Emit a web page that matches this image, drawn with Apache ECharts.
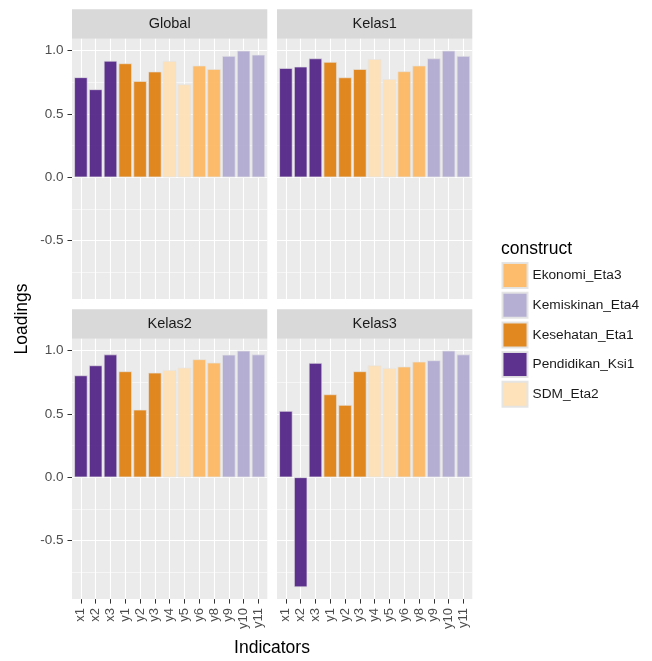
<!DOCTYPE html>
<html>
<head>
<meta charset="utf-8">
<script src="https://cdn.jsdelivr.net/npm/echarts@6/dist/echarts.min.js"></script>
<style>
  html, body { margin: 0; padding: 0; background: #ffffff; }
  #chart { width: 652px; height: 661px; }
</style>
</head>
<body>
<div id="chart"></div>
<script>
// indicators on the x axis
var categories = ['x1', 'x2', 'x3', 'y1', 'y2', 'y3', 'y4', 'y5', 'y6', 'y8', 'y9', 'y10', 'y11'];
// construct of each indicator
var groupOf = ['Pendidikan_Ksi1', 'Pendidikan_Ksi1', 'Pendidikan_Ksi1',
    'Kesehatan_Eta1', 'Kesehatan_Eta1', 'Kesehatan_Eta1',
    'SDM_Eta2', 'SDM_Eta2', 'Ekonomi_Eta3', 'Ekonomi_Eta3',
    'Kemiskinan_Eta4', 'Kemiskinan_Eta4', 'Kemiskinan_Eta4'];
var constructs = ['Ekonomi_Eta3', 'Kemiskinan_Eta4', 'Kesehatan_Eta1', 'Pendidikan_Ksi1', 'SDM_Eta2'];
var panels = ['Global', 'Kelas1', 'Kelas2', 'Kelas3'];

// loadings per panel
var globalLoad = [0.79, 0.695, 0.92, 0.90, 0.76, 0.835, 0.918, 0.734, 0.882, 0.855, 0.958, 1.0, 0.968];
var kelas1Load = [0.863, 0.874, 0.939, 0.911, 0.789, 0.855, 0.934, 0.776, 0.837, 0.882, 0.939, 1.0, 0.958];
var kelas2Load = [0.805, 0.884, 0.970, 0.837, 0.534, 0.826, 0.847, 0.866, 0.932, 0.905, 0.968, 1.0, 0.970];
var kelas3Load = [0.524, -0.868, 0.903, 0.655, 0.571, 0.837, 0.884, 0.863, 0.874, 0.913, 0.924, 1.0, 0.970];
var loadings = [globalLoad, kelas1Load, kelas2Load, kelas3Load];

var yTicks = [-0.5, 0, 0.5, 1.0];

var colors = {
    'Ekonomi_Eta3': '#fdb863',
    'Kemiskinan_Eta4': '#b2abd2',
    'Kesehatan_Eta1': '#e08214',
    'Pendidikan_Ksi1': '#542788',
    'SDM_Eta2': '#fee0b6'
};

// panel layout (px)
var panelW = 195.3, panelH = 260.3;
var panelPos = [[72, 38.8], [277, 38.8], [72, 338.8], [277, 338.8]];
var stripH = 29.5;
var barPx = 0.9 * panelW / 13.2;
var xIdx = categories.map(function (c, i) { return i; });

var grids = [], xAxes = [], yAxes = [], series = [], graphics = [];

panelPos.forEach(function (pos, p) {
    var isLeft = (p % 2 === 0);
    var isBottom = (p >= 2);
    grids.push({
        left: pos[0], top: pos[1], width: panelW, height: panelH,
        show: true, backgroundColor: '#EBEBEB', borderWidth: 0, containLabel: false
    });
    xAxes.push({
        type: 'value', gridIndex: p, min: -0.6, max: 12.6, position: 'bottom',
        axisLine: { show: false, onZero: false },
        axisTick: { show: isBottom, length: 4.5, customValues: xIdx, lineStyle: { color: '#333333', width: 1 } },
        axisLabel: {
            show: isBottom, customValues: xIdx, rotate: 90, margin: 9,
            fontFamily: 'Liberation Sans', fontSize: 13, color: '#4d4d4d',
            formatter: function (v) { return categories[Math.round(v)]; }
        },
        splitLine: { show: true, customValues: xIdx, lineStyle: { color: '#ffffff', width: 1.1 } }
    });
    yAxes.push({
        type: 'value', gridIndex: p, min: -0.962, max: 1.094, position: 'left',
        minInterval: 0.5, maxInterval: 0.5,
        axisLine: { show: false, onZero: false },
        axisTick: { show: isLeft, length: 4.5, customValues: yTicks, lineStyle: { color: '#333333', width: 1 } },
        axisLabel: {
            show: isLeft, customValues: yTicks, margin: 8.5,
            fontFamily: 'Liberation Sans', fontSize: 13.5, color: '#4d4d4d',
            formatter: function (v) { return v.toFixed(1); }
        },
        splitLine: { show: true, customValues: yTicks, lineStyle: { color: '#ffffff', width: 1.1 } },
        minorTick: { show: false, splitNumber: 2 },
        minorSplitLine: { show: true, lineStyle: { color: '#ffffff', width: 0.55 } }
    });

    constructs.forEach(function (name) {
        var data = [];
        categories.forEach(function (c, i) {
            if (groupOf[i] === name) data.push([i, loadings[p][i]]);
        });
        series.push({
            type: 'bar', name: name, xAxisIndex: p, yAxisIndex: p,
            barWidth: barPx, barGap: '-100%',
            itemStyle: { color: colors[name], opacity: 0.95, borderColor: '#e4e4e4', borderWidth: 0.7 },
            emphasis: { disabled: true },
            data: data
        });
    });

    // facet strip
    graphics.push({
        type: 'rect', left: pos[0], top: pos[1] - stripH, silent: true,
        shape: { width: panelW, height: stripH }, style: { fill: '#D9D9D9' }
    });
    graphics.push({
        type: 'text', x: pos[0] + panelW / 2, y: pos[1] - stripH / 2, silent: true,
        style: {
            text: panels[p], fontFamily: 'Liberation Sans', fontSize: 14.5, fill: '#1a1a1a',
            textAlign: 'center', textVerticalAlign: 'middle'
        }
    });
});

// axis titles and legend title
graphics.push({
    type: 'text', x: 272, y: 648, silent: true,
    style: { text: 'Indicators', fontFamily: 'Liberation Sans', fontSize: 17.5, fill: '#000000', textAlign: 'center', textVerticalAlign: 'middle' }
});
graphics.push({
    type: 'text', x: 22, y: 319, rotation: Math.PI / 2, silent: true,
    style: { text: 'Loadings', fontFamily: 'Liberation Sans', fontSize: 17.5, fill: '#000000', textAlign: 'center', textVerticalAlign: 'middle' }
});
graphics.push({
    type: 'text', x: 501, y: 249.5, silent: true,
    style: { text: 'construct', fontFamily: 'Liberation Sans', fontSize: 17.5, fill: '#000000', textAlign: 'left', textVerticalAlign: 'middle' }
});

var chart = echarts.init(document.getElementById('chart'), null, { renderer: 'canvas' });
chart.setOption({
    animation: false,
    backgroundColor: '#ffffff',
    grid: grids,
    xAxis: xAxes,
    yAxis: yAxes,
    legend: {
        data: constructs, orient: 'vertical', left: 501.5, top: 262,
        itemWidth: 25, itemHeight: 25, itemGap: 2.7, icon: 'rect',
        selectedMode: false, padding: 0,
        textStyle: { fontFamily: 'Liberation Sans', fontSize: 13.7, color: '#1a1a1a', padding: [0, 0, 0, 0] }
    },
    graphic: graphics,
    series: series
});
</script>
</body>
</html>
